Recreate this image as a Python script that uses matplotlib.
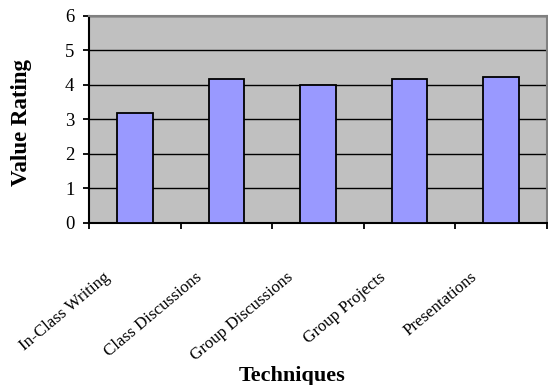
#!/usr/bin/python

"""
Bar chart of value ratings for each classroom technique
"""

import matplotlib
matplotlib.use('Agg')
import matplotlib.pyplot as plt
import matplotlib.transforms as mtransforms
import numpy


TECHNIQUES = ['In-Class Writing', 'Class Discussions', 'Group Discussions',
              'Group Projects', 'Presentations']
RATINGS = [3.18, 4.17, 4.0, 4.17, 4.23]
Y_TICKS = [0, 1, 2, 3, 4, 5, 6]

BAR_COLOR = '#9999FF'
PLOT_BG = '#C0C0C0'
BAR_WIDTH = 0.39


plt.rcParams['font.family'] = ['Liberation Serif', 'DejaVu Serif']

fig = plt.figure(figsize=(5.48, 3.85), dpi=100)
ax = fig.add_axes([89 / 548.0, 1 - 222.7 / 385.0, 458 / 548.0, 206.7 / 385.0])
ax.set_facecolor(PLOT_BG)

xs = numpy.arange(len(TECHNIQUES)) + 0.5
ax.bar(xs, RATINGS, width=BAR_WIDTH, color=BAR_COLOR, edgecolor='black',
       linewidth=1.3, zorder=3)

ax.set_xlim(0, len(TECHNIQUES))
ax.set_ylim(Y_TICKS[0], Y_TICKS[-1])

# horizontal gridlines
ax.set_yticks(Y_TICKS)
ax.yaxis.grid(True, color='black', linewidth=1.0, zorder=1)
ax.set_axisbelow(True)
ax.tick_params(axis='y', direction='out', length=4.5, width=1.3,
               labelsize=13.5, pad=6)

# category boundaries get the tick marks, centres get the labels
ax.set_xticks(numpy.arange(len(TECHNIQUES) + 1))
ax.set_xticklabels([])
ax.tick_params(axis='x', which='major', direction='out', length=4.5, width=1.3)
ax.set_xticks(xs, minor=True)
ax.set_xticklabels(TECHNIQUES, minor=True, rotation=40, ha='right',
                   va='center', rotation_mode='anchor', fontsize=12.2)
ax.tick_params(axis='x', which='minor', length=0, pad=0)
offset = mtransforms.ScaledTranslation(-19 / 72.0, -38 / 72.0, fig.dpi_scale_trans)
for label in ax.get_xticklabels(minor=True):
    label.set_transform(label.get_transform() + offset)

for side in ['left', 'bottom']:
    ax.spines[side].set_color('black')
    ax.spines[side].set_linewidth(1.5)
for side in ['top', 'right']:
    ax.spines[side].set_color('#808080')
    ax.spines[side].set_linewidth(1.5)

fig.text(22 / 548.0, 1 - 122 / 385.0, 'Value Rating', rotation=90,
         ha='center', va='center', fontsize=16.5, fontweight='bold')
fig.text(292 / 548.0, 1 - 381 / 385.0, 'Techniques', ha='center',
         va='baseline', fontsize=16, fontweight='bold')

fig.savefig('out.png', dpi=100)
